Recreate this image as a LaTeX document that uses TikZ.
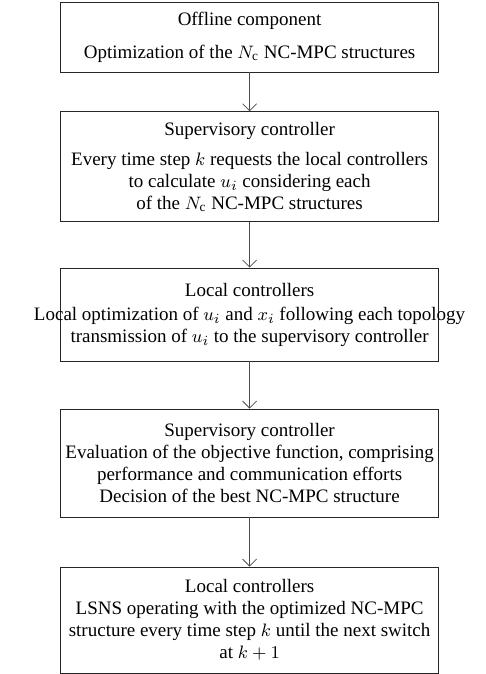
\documentclass[tikz,border=0pt]{standalone}
\usepackage{fontspec}
\setmainfont{Liberation Serif}
\usepackage{amsmath}
\usepackage{tikz}
\usetikzlibrary{arrows.meta}

\tikzset{
  stagebox/.style={draw=black!85, minimum width=189pt, inner sep=0pt},
  stagetext/.style={align=center, inner sep=0pt, font=\fontsize{9.5}{11}\selectfont},
  flowarrow/.style={draw=black!70, -{Straight Barb[length=3.5pt,width=7pt]}},
}

\begin{document}
\begin{tikzpicture}
                \useasboundingbox (0,0) rectangle (243pt,-337pt);

                \node[stagebox, minimum height=34.65pt,
                      label={[stagetext]center:{Offline component\\[5.5pt] Optimization of the $N_{\mathrm{c}}$ NC-MPC structures}}]
                      (offline) at (124.8pt,-18.7pt) {};
                \node[stagebox, minimum height=55pt,
                      label={[stagetext]center:{Supervisory controller\\[4pt] Every time step $k$ requests the local controllers\\
                      to calculate $u_i$ considering each\\ of the $N_{\mathrm{c}}$ NC-MPC structures}}]
                      (supA) at (124.8pt,-83.35pt) {};
                \node[stagebox, minimum height=46.5pt,
                      label={[stagetext]center:{Local controllers\\[1pt] Local optimization of $u_i$ and $x_i$ following each topology\\
                      transmission of $u_i$ to the supervisory controller}}]
                      (locA) at (124.8pt,-157.25pt) {};
                \node[stagebox, minimum height=54pt,
                      label={[stagetext]center:{Supervisory controller\\ Evaluation of the objective function, comprising\\
                      performance and communication efforts\\ Decision of the best NC-MPC structure}}]
                      (supB) at (124.8pt,-231.5pt) {};
                \node[stagebox, minimum height=53pt,
                      label={[stagetext]center:{Local controllers\\ LSNS operating with the optimized NC-MPC\\
                      structure every time step $k$ until the next switch\\ at $k+1$}}]
                      (locB) at (124.8pt,-310pt) {};

                % arrows between the stages
                \draw[flowarrow] (offline) -- (supA);
                \draw[flowarrow] (supA) -- (locA);
                \draw[flowarrow] (locA) -- (supB);
                \draw[flowarrow] (supB) -- (locB);
            \end{tikzpicture}
\end{document}
